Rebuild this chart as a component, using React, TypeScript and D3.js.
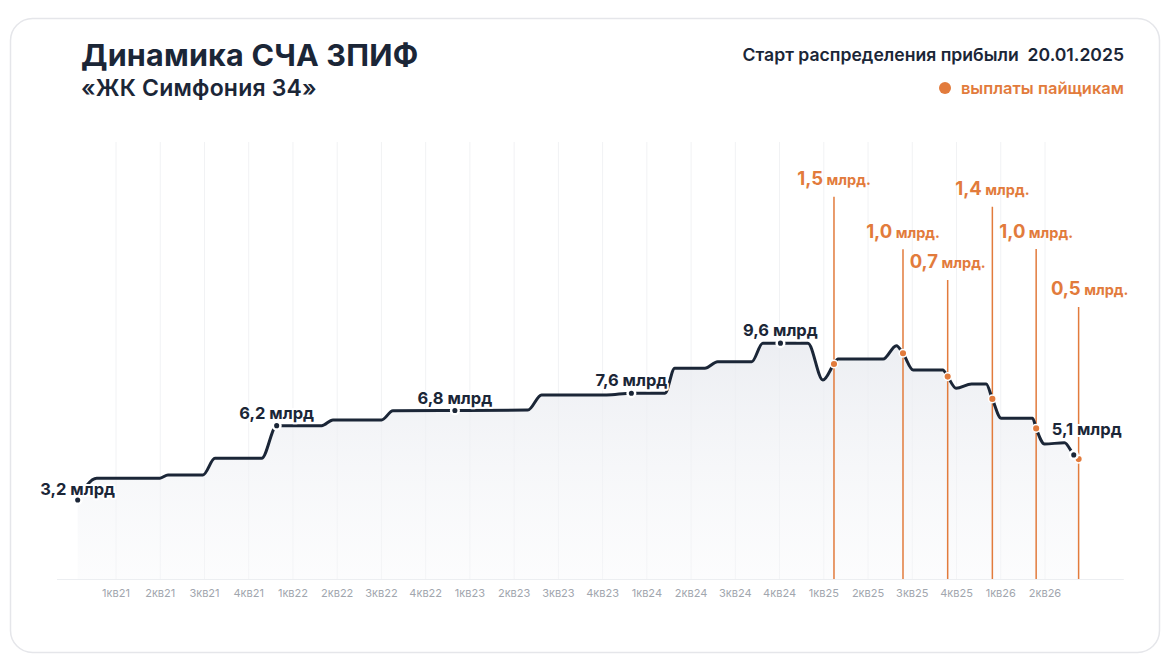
import React from 'react';
import * as d3 from 'd3';

// ---- data ----
const quarterLabels = [
  '1кв21', '2кв21', '3кв21', '4кв21',
  '1кв22', '2кв22', '3кв22', '4кв22',
  '1кв23', '2кв23', '3кв23', '4кв23',
  '1кв24', '2кв24', '3кв24', '4кв24',
  '1кв25', '2кв25', '3кв25', '4кв25',
  '1кв26', '2кв26',
];

// NAV line: position in quarters (0 = 1кв21) and value, bn RUB
const navQ = [
  -0.866, -0.436, 0.994, 1.175, 1.966, 2.237, 3.293, 3.632, 4.649, 4.904,
  6.004, 6.26, 7.661, 9.31, 9.62, 11.09, 11.65, 12.41, 12.63, 13.31,
  13.6, 14.37, 14.62, 15.02, 15.64, 15.98, 16.23, 16.32, 17.34, 17.64,
  17.79, 18.02, 18.69, 18.8, 18.99, 19.34, 19.67, 19.81, 20.01, 20.72,
  20.8, 20.99, 21.44, 21.65, 21.76,
];
const navV = [
  3.19, 4.07, 4.07, 4.2, 4.2, 4.87, 4.87, 6.19, 6.19, 6.42,
  6.42, 6.79, 6.8, 6.82, 7.43, 7.43, 7.5, 7.5, 8.51, 8.51,
  8.77, 8.77, 9.52, 9.52, 9.52, 8.03, 8.68, 8.88, 8.88, 9.42,
  9.11, 8.44, 8.44, 8.17, 7.7, 7.87, 7.87, 7.27, 6.49, 6.49,
  6.08, 5.45, 5.5, 5.01, 4.84,
];

// labelled NAV points
const markQ = [-0.866, 3.632, 7.661, 11.65, 15.02, 21.65];
const markV = [3.19, 6.19, 6.8, 7.5, 9.52, 5.01];
const markText = ['3,2 млрд', '6,2 млрд', '6,8 млрд', '7,6 млрд', '9,6 млрд', '5,1 млрд'];

// payouts to unit holders
const payoutQ = [16.23, 17.79, 18.8, 19.81, 20.8, 21.76];
const payoutNav = [8.68, 9.11, 8.17, 7.27, 6.08, 4.84];
const payoutAmount = ['1,5', '1,0', '0,7', '1,4', '1,0', '0,5'];
const payoutLabelLevel = [15.43, 13.31, 12.07, 15.03, 13.32, 10.98];

// ---- layout ----
const W = 1170;
const H = 664;
const DARK = '#1b2637';
const ORANGE = '#e27b3c';
const FONT = 'Inter, "Noto Sans", sans-serif';

export default function App() {
  const x = d3.scaleLinear().domain([0, 21]).range([116, 1045]);
  const y = d3.scaleLinear().domain([0, 17.6]).range([579, 143]);

  const pts: [number, number][] = navQ.map((q, i) => [q, navV[i]]);
  const line = d3
    .line<[number, number]>()
    .x((d) => x(d[0]))
    .y((d) => y(d[1]))
    .curve(d3.curveMonotoneX);
  const area = d3
    .area<[number, number]>()
    .x((d) => x(d[0]))
    .y0(y(0))
    .y1((d) => y(d[1]))
    .curve(d3.curveMonotoneX);

  const ticks = quarterLabels.map((_, i) => i);

  return (
    <div style={{ position: 'fixed', left: 0, top: 0, width: W, height: H, background: '#fff' }}>
      <svg width={W} height={H} style={{ display: 'block', fontFamily: FONT }}>
        <defs>
          <linearGradient id="areaGrad" x1="0" y1="0" x2="0" y2="1">
            <stop offset="0%" stopColor="#e9ebf0" stopOpacity={0.85} />
            <stop offset="100%" stopColor="#f7f8fa" stopOpacity={0.4} />
          </linearGradient>
        </defs>
        <rect x={10.5} y={18.5} width={1149} height={634} rx={22} fill="#fff" stroke="#e5e6ea" strokeWidth={1.5} />

        {/* header */}
        <text x={81} y={66} fontSize={30.5} fontWeight={700} fill={DARK} letterSpacing={0.2}>
          Динамика СЧА ЗПИФ
        </text>
        <text x={81} y={96} fontSize={23} fontWeight={600} fill={DARK} letterSpacing={0.2}>
          «ЖК Симфония 34»
        </text>
        <text x={1124} y={61} fontSize={17.6} fontWeight={600} fill={DARK} textAnchor="end" style={{ whiteSpace: 'pre' }}>
          {'Старт распределения прибыли  20.01.2025'}
        </text>
        <circle cx={945} cy={88} r={6} fill={ORANGE} />
        <text x={1124} y={93.5} fontSize={16.5} fontWeight={600} fill={ORANGE} textAnchor="end">
          выплаты пайщикам
        </text>

        {/* grid */}
        {ticks.map((t) => (
          <line key={'g' + t} x1={x(t)} x2={x(t)} y1={142} y2={y(0)} stroke="#f1f2f4" strokeWidth={1} />
        ))}
        <line x1={x(-1.333)} x2={x(22.78)} y1={y(0) + 0.5} y2={y(0) + 0.5} stroke="#eceef1" strokeWidth={1} />
        {ticks.map((t, i) => (
          <text key={'t' + t} x={x(t)} y={597} fontSize={11} fill="#a1a6ae" textAnchor="middle">
            {quarterLabels[i]}
          </text>
        ))}

        {/* area + line */}
        <path d={area(pts) || ''} fill="url(#areaGrad)" />
        {payoutQ.map((q, i) => (
          <line key={'p' + i} x1={x(q)} x2={x(q)} y1={y(payoutLabelLevel[i])} y2={y(0)} stroke={ORANGE} strokeWidth={1.5} />
        ))}
        <path d={line(pts) || ''} fill="none" stroke={DARK} strokeWidth={3} strokeLinejoin="round" strokeLinecap="round" />

        {/* payout dots */}
        {payoutQ.map((q, i) => (
          <circle key={'pd' + i} cx={x(q)} cy={y(payoutNav[i])} r={3.8} fill={ORANGE} stroke="#fff" strokeWidth={1.5} />
        ))}

        {/* labelled points */}
        {markQ.map((q, i) => {
          const last = i === markQ.length - 1;
          const first = i === 0;
          return (
            <g key={'m' + i}>
              <text
                x={x(q) + (last ? 13 : 0)}
                y={y(markV[i]) - (last ? 20 : first ? 5 : 7)}
                fontSize={16.5}
                fontWeight={700}
                fill={DARK}
                textAnchor="middle"
                stroke="#fff"
                strokeWidth={4}
                strokeLinejoin="round"
                style={{ paintOrder: 'stroke' }}
              >
                {markText[i]}
              </text>
              <circle cx={x(q)} cy={y(markV[i])} r={3.8} fill={DARK} stroke="#fff" strokeWidth={2.5} />
            </g>
          );
        })}

        {/* payout labels */}
        {payoutQ.map((q, i) => (
          <text
            key={'pl' + i}
            x={x(q) + (i === payoutQ.length - 1 ? 11 : 0)}
            y={y(payoutLabelLevel[i]) - 11.5}
            fill={ORANGE}
            fontWeight={700}
            textAnchor="middle"
          >
            <tspan fontSize={18.5}>{payoutAmount[i]}</tspan>
            <tspan fontSize={14.5}>{' млрд.'}</tspan>
          </text>
        ))}
      </svg>
    </div>
  );
}
